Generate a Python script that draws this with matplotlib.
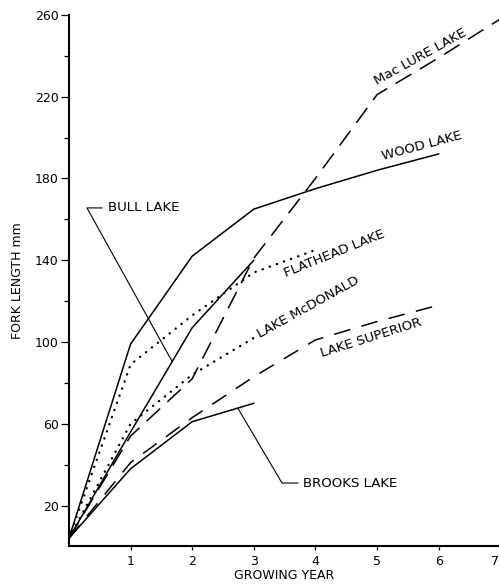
import numpy as np
import matplotlib
matplotlib.use("Agg")
import matplotlib.pyplot as plt
import matplotlib.transforms as mtransforms
from matplotlib.ticker import FixedLocator

# ---- data ----
wood_years = [0, 1, 2, 3, 4, 5, 6]
wood_len = [4, 99, 142, 165, 175, 184, 192]

bull_years = [0, 1, 2, 3]
bull_len = [4, 56, 107, 140]

brooks_years = [0, 1, 2, 3]
brooks_len = [4, 38, 61, 70]

flathead_years = [0, 1, 2, 3, 4]
flathead_len = [4, 89, 113, 134, 145]

mcdonald_years = [0, 1, 2, 3]
mcdonald_len = [4, 60, 84, 102]

maclure_years = [0, 1, 2, 3, 4, 5, 6, 7]
maclure_len = [4, 54, 82, 141, 180, 221, 239, 258]

superior_years = [0, 1, 2, 3, 4, 5, 6]
superior_len = [4, 41, 63, 83, 101, 110, 118]

x_ticks = [1, 2, 3, 4, 5, 6, 7]
y_major = [20, 60, 100, 140, 180, 220, 260]
y_minor = [40, 80, 120, 160, 200, 240]

# ---- figure ----
W, H = 499, 587
fig = plt.figure(figsize=(W / 100, H / 100), dpi=100)
x0, px_per_year = 69, 61.6
y0, px_per_unit = 546.4, 2.044
ax = fig.add_axes([x0 / W, (H - y0) / H, 7 * px_per_year / W, 260 * px_per_unit / H])
ax.set_xlim(0, 7)
ax.set_ylim(0, 260)

lw = 1.1
solid = dict(color="black", lw=lw, solid_joinstyle="miter")
dash_long = dict(color="black", lw=lw, linestyle=(0, (12, 6.5)))
dash_sup = dict(color="black", lw=lw, linestyle=(0, (11, 7.5)))
dots = dict(color="black", lw=1.7, linestyle=(0, (0.1, 3.1)), dash_capstyle="round")

ax.plot(wood_years, wood_len, **solid)
ax.plot(bull_years, bull_len, **solid)
ax.plot(brooks_years, brooks_len, **solid)
ax.plot(flathead_years, flathead_len, **dots)
ax.plot(mcdonald_years, mcdonald_len, **dots)
ax.plot(maclure_years, maclure_len, **dash_long)
ax.plot(superior_years, superior_len, **dash_sup)

fs = 9.6
# rotated curve labels
ax.text(5.0, 225.7, "Mac LURE LAKE", rotation=29, rotation_mode="anchor",
        ha="left", va="baseline", fontsize=fs)
ax.text(5.10, 189.0, "WOOD LAKE", rotation=15, rotation_mode="anchor",
        ha="left", va="baseline", fontsize=fs)
ax.text(3.53, 131.9, "FLATHEAD LAKE", rotation=22, rotation_mode="anchor",
        ha="left", va="baseline", fontsize=fs)
ax.text(3.10, 102.0, "LAKE McDONALD", rotation=29, rotation_mode="anchor",
        ha="left", va="baseline", fontsize=fs)
ax.text(4.10, 92.8, "LAKE SUPERIOR", rotation=17.5, rotation_mode="anchor",
        ha="left", va="baseline", fontsize=fs)

# leader-line labels
bull_pt = 1.675
ax.plot([bull_pt, 0.292, 0.536],
        [np.interp(bull_pt, bull_years, bull_len), 165.6, 165.6],
        color="black", lw=0.8)
ax.text(0.633, 165.6, "BULL LAKE", ha="left", va="center", fontsize=fs)

brooks_pt = 2.74
ax.plot([brooks_pt, 3.458, 3.718],
        [np.interp(brooks_pt, brooks_years, brooks_len), 31.0, 31.0],
        color="black", lw=0.8)
ax.text(3.80, 31.0, "BROOKS LAKE", ha="left", va="center", fontsize=fs)

# axes styling
for s in ["top", "right"]:
    ax.spines[s].set_visible(False)
for s in ["left", "bottom"]:
    ax.spines[s].set_linewidth(1.5)

ax.xaxis.set_major_locator(FixedLocator(x_ticks))
ax.set_xticklabels([str(t) for t in x_ticks])
ax.yaxis.set_major_locator(FixedLocator(y_major))
ax.yaxis.set_minor_locator(FixedLocator(y_minor))
ax.set_yticklabels([str(t) for t in y_major])
ax.tick_params(axis="y", which="major", length=5.8, width=0.9, pad=1.5, labelsize=9)
ax.tick_params(axis="y", which="minor", length=3.6, width=0.9)
ax.tick_params(axis="x", which="major", length=3, width=0.9, pad=3, labelsize=9)

# keep the last x tick label ("7") inside the figure edge
last = ax.get_xticklabels()[-1]
last.set_transform(last.get_transform() +
                   mtransforms.ScaledTranslation(-5 / 100, 0, fig.dpi_scale_trans))

ax.set_xlabel("GROWING YEAR", fontsize=9, labelpad=1)
ax.set_ylabel("FORK LENGTH mm", fontsize=9, labelpad=8)

fig.savefig("out.png", dpi=100)
